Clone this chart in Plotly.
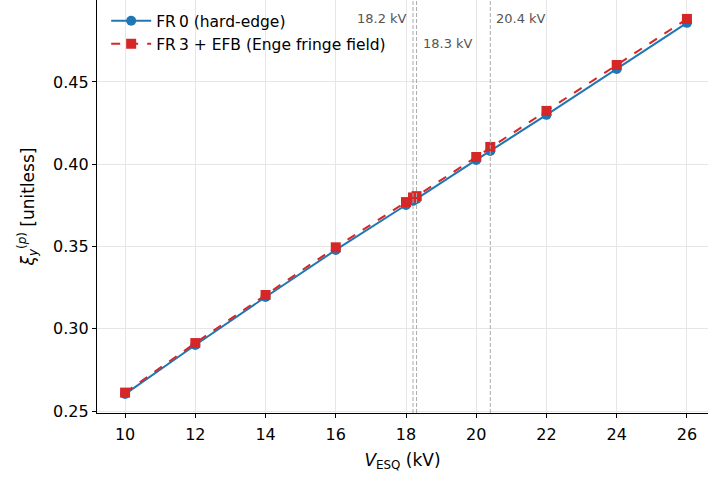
import plotly.graph_objects as go

v_esq = [10, 12, 14, 16, 18, 18.2, 18.3, 20, 20.4, 22, 24, 26]
xi_fr0 = [0.2603, 0.2901, 0.3193, 0.3479, 0.3752, 0.3777, 0.3789, 0.4026, 0.4080, 0.4300, 0.4579, 0.4859]
xi_fr3 = [0.2612, 0.2913, 0.3205, 0.3495, 0.3770, 0.3798, 0.3806, 0.4044, 0.4105, 0.4324, 0.4603, 0.4883]
vlines = [18.2, 18.3, 20.4]
vline_labels = ["18.2 kV", "18.3 kV", "20.4 kV"]
xticks = [10, 12, 14, 16, 18, 20, 22, 24, 26]
yticks = [0.25, 0.30, 0.35, 0.40, 0.45]

FONT = "DejaVu Sans"
fig = go.Figure()
fig.add_trace(go.Scatter(x=v_esq, y=xi_fr0, mode="lines+markers", name="FR\u20090 (hard-edge)",
                         line=dict(color="#1f77b4", width=2),
                         marker=dict(symbol="circle", size=10, color="#1f77b4")))
fig.add_trace(go.Scatter(x=v_esq, y=xi_fr3, mode="lines+markers", name="FR\u20093 + EFB (Enge fringe field)",
                         line=dict(color="#d62728", width=2, dash="dash"),
                         marker=dict(symbol="square", size=10, color="#d62728")))
for v in vlines:
    fig.add_vline(x=v, line=dict(color="#aaaaaa", width=1, dash="4px,2px"))
ann_font = dict(family=FONT, size=13, color="#555555")
fig.add_annotation(x=vlines[0], y=1, yref="paper", yshift=-9, xshift=-4, text=vline_labels[0],
                   showarrow=False, xanchor="right", font=ann_font)
fig.add_annotation(x=vlines[1], y=1, yref="paper", yshift=-34, xshift=4, text=vline_labels[1],
                   showarrow=False, xanchor="left", font=ann_font)
fig.add_annotation(x=vlines[2], y=1, yref="paper", yshift=-9, xshift=4, text=vline_labels[2],
                   showarrow=False, xanchor="left", font=ann_font)

fig.update_layout(
    width=708, height=477,
    margin=dict(l=97, r=0, t=0, b=64, autoexpand=False),
    paper_bgcolor="white", plot_bgcolor="white",
    font=dict(family=FONT, size=16, color="black"),
    showlegend=True,
    legend=dict(x=0.015, y=0.99, xanchor="left", yanchor="top", bgcolor="rgba(255,255,255,0)",
                font=dict(family=FONT, size=15.5), tracegroupgap=0, itemwidth=40),
    xaxis=dict(range=[9.2, 26.6], tickvals=xticks, showgrid=True, gridcolor="#e6e6e6",
               showline=True, linecolor="black", linewidth=1.2, ticks="outside", ticklen=4,
               tickcolor="black", zeroline=False, automargin=False, ticklabelstandoff=3,
               title=dict(text="<i>V</i><sub>ESQ</sub> (kV)", font=dict(size=17), standoff=10)),
    yaxis=dict(range=[0.2488, 0.4998], tickvals=yticks, tickformat=".2f", showgrid=True,
               gridcolor="#e6e6e6", showline=True, linecolor="black", linewidth=1.2,
               ticks="outside", ticklen=4, tickcolor="black", zeroline=False, automargin=False,
               title=dict(text="<i>ξ</i><sub><i>y</i></sub><sup>(<i>p</i>)</sup> [unitless]",
                          font=dict(size=17), standoff=14)),
)
fig.write_html("out.html", config={"displayModeBar": False},
               post_script="document.body.style.margin='0px';")
